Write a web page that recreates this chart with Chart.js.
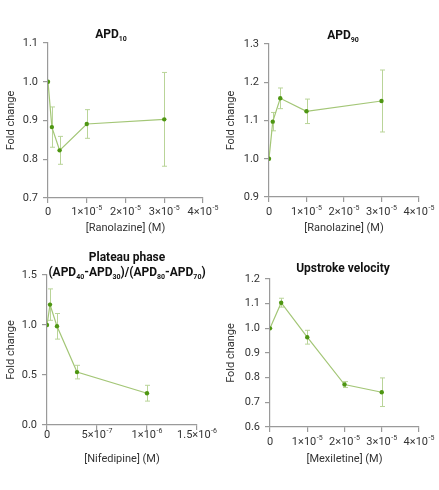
<!DOCTYPE html>
<html>
<head>
<meta charset="utf-8">
<script src="https://cdn.jsdelivr.net/npm/chart.js@4.4.1/dist/chart.umd.min.js"></script>
<style>
  body { margin: 0; background: #fff; width: 439px; height: 490px; position: relative; overflow: hidden; }
  canvas { position: absolute; }
</style>
</head>
<body>
<canvas id="apd10Chart" width="220" height="240" style="left:0;top:0"></canvas>
<canvas id="apd90Chart" width="219" height="240" style="left:220px;top:0"></canvas>
<canvas id="plateauChart" width="220" height="250" style="left:0;top:240px"></canvas>
<canvas id="upstrokeChart" width="219" height="250" style="left:220px;top:240px"></canvas>
<script>
// Concentrations (M)
const ranolazineConc = [0, 1e-6, 3e-6, 1e-5, 3e-5];
const nifedipineConc = [0, 3e-8, 1e-7, 3e-7, 1e-6];
const mexiletineConc = [0, 3e-6, 1e-5, 2e-5, 3e-5];

// Fold change values and error (+/-)
const apd10Values = [1.0, 0.883, 0.823, 0.891, 0.903];
const apd10Errors = [0, 0.052, 0.036, 0.037, 0.121];
const apd90Values = [1.0, 1.097, 1.158, 1.124, 1.151];
const apd90Errors = [0, 0.024, 0.027, 0.032, 0.081];
const plateauValues = [1.0, 1.204, 0.987, 0.529, 0.318];
const plateauErrors = [0, 0.157, 0.128, 0.068, 0.079];
const upstrokeValues = [1.0, 1.104, 0.964, 0.772, 0.741];
const upstrokeErrors = [0, 0.018, 0.028, 0.012, 0.058];

// Tick positions and labels (mantissa, exponent)
const ranolazineTicks = [0, 1e-5, 2e-5, 3e-5, 4e-5];
const ranolazineTickLabels = [['0', ''], ['1×10', '-5'], ['2×10', '-5'], ['3×10', '-5'], ['4×10', '-5']];
const nifedipineTicks = [0, 5e-7, 1e-6, 1.5e-6];
const nifedipineTickLabels = [['0', ''], ['5×10', '-7'], ['1×10', '-6'], ['1.5×10', '-6']];

const FONT = "Roboto, 'Liberation Sans', sans-serif";
const POINT_COLOR = '#4e9612';
const LINE_COLOR = '#a3c676';
const ERR_COLOR = '#b9d498';
const AXIS_COLOR = '#9a9a9a';
const TEXT_COLOR = '#333333';

// Vertical error bars with small caps, drawn under the points
const errorBarPlugin = {
  id: 'errorBars',
  beforeDatasetsDraw(chart) {
    const errs = chart.options.plugins.errorBars.errors;
    const ds = chart.data.datasets[0];
    const { ctx, scales: { x, y } } = chart;
    ctx.save();
    ctx.strokeStyle = ERR_COLOR;
    ctx.lineWidth = 1;
    ds.data.forEach((p, i) => {
      if (!errs[i]) return;
      const px = Math.round(x.getPixelForValue(p.x)) + 0.5;
      const top = y.getPixelForValue(p.y + errs[i]);
      const bot = y.getPixelForValue(p.y - errs[i]);
      ctx.beginPath();
      ctx.moveTo(px, top); ctx.lineTo(px, bot);
      ctx.moveTo(px - 2.5, top); ctx.lineTo(px + 2.5, top);
      ctx.moveTo(px - 2.5, bot); ctx.lineTo(px + 2.5, bot);
      ctx.stroke();
    });
    ctx.restore();
  }
};

// x tick labels with superscript exponents
const sciTickPlugin = {
  id: 'sciTicks',
  afterDraw(chart) {
    const o = chart.options.plugins.sciTicks;
    const { ctx, scales: { x } } = chart;
    const yc = chart.chartArea.bottom + o.offset;
    ctx.save();
    ctx.fillStyle = TEXT_COLOR;
    ctx.textBaseline = 'middle';
    o.values.forEach((v, i) => {
      const [base, exp] = o.labels[i];
      ctx.font = `11px ${FONT}`;
      const wb = ctx.measureText(base).width;
      ctx.font = `7px ${FONT}`;
      const we = exp ? ctx.measureText(exp).width + 0.5 : 0;
      let cx = x.getPixelForValue(v) - (wb + we) / 2;
      ctx.font = `11px ${FONT}`;
      ctx.fillText(base, cx, yc);
      if (exp) {
        ctx.font = `7px ${FONT}`;
        ctx.fillText(exp, cx + wb + 0.5, yc - 4);
      }
    });
    ctx.restore();
  }
};

// Bold title with subscript segments
const subTitlePlugin = {
  id: 'subTitle',
  afterDraw(chart) {
    const o = chart.options.plugins.subTitle;
    const ctx = chart.ctx;
    ctx.save();
    ctx.fillStyle = '#111';
    ctx.textBaseline = 'alphabetic';
    o.lines.forEach((segs, li) => {
      let w = 0;
      segs.forEach(s => {
        ctx.font = `bold ${s.sub ? 7 : 12}px ${FONT}`;
        w += ctx.measureText(s.t).width;
      });
      let cx = o.x - w / 2;
      const base = o.y + li * o.lineGap;
      segs.forEach(s => {
        ctx.font = `bold ${s.sub ? 7 : 12}px ${FONT}`;
        ctx.fillText(s.t, cx, base + (s.sub ? 3 : 0));
        cx += ctx.measureText(s.t).width;
      });
    });
    ctx.restore();
  }
};

function makePanel(id, cfg) {
  const canvas = document.getElementById(id);
  const W = canvas.width, H = canvas.height;
  const points = cfg.xs.map((x, i) => ({ x: x, y: cfg.ys[i] }));
  new Chart(canvas.getContext('2d'), {
    type: 'line',
    data: {
      datasets: [{
        data: points,
        borderColor: LINE_COLOR,
        borderWidth: 1.2,
        pointBackgroundColor: POINT_COLOR,
        pointBorderColor: POINT_COLOR,
        pointRadius: 2.2,
        pointBorderWidth: 0,
        tension: 0
      }]
    },
    options: {
      responsive: false,
      animation: false,
      layout: { padding: { left: 0, bottom: 0, top: cfg.area.top, right: W - cfg.area.right } },
      plugins: {
        legend: { display: false },
        tooltip: { enabled: false },
        errorBars: { errors: cfg.errs },
        sciTicks: { values: cfg.xTicks, labels: cfg.xLabels, offset: cfg.xLabelOffset },
        subTitle: cfg.title
      },
      scales: {
        x: {
          type: 'linear',
          min: cfg.xTicks[0],
          max: cfg.xTicks[cfg.xTicks.length - 1],
          afterBuildTicks: axis => { axis.ticks = cfg.xTicks.map(v => ({ value: v })); },
          afterFit: axis => { axis.height = H - cfg.area.bottom; },
          border: { color: AXIS_COLOR, width: 1.2 },
          grid: { drawOnChartArea: false, drawTicks: true, tickLength: 5, color: AXIS_COLOR, lineWidth: 1.2 },
          ticks: { font: { family: FONT, size: 11 }, maxRotation: 0, autoSkip: false, callback: () => '' },
          title: { display: true, text: cfg.xTitle, font: { family: FONT, size: 11 }, color: TEXT_COLOR, padding: { top: 0, bottom: cfg.xTitlePad } }
        },
        y: {
          min: cfg.yMin,
          max: cfg.yMax,
          afterFit: axis => { axis.width = cfg.area.left; },
          border: { color: AXIS_COLOR, width: 1.2 },
          grid: { drawOnChartArea: false, drawTicks: true, tickLength: 5, color: AXIS_COLOR, lineWidth: 1.2 },
          ticks: {
            font: { family: FONT, size: 11 }, color: TEXT_COLOR, padding: 5, stepSize: cfg.yStep,
            callback: v => Number(v).toFixed(1)
          },
          title: { display: true, text: 'Fold change', font: { family: FONT, size: 11 }, color: TEXT_COLOR, padding: { top: 5, bottom: 0 } }
        }
      }
    },
    plugins: [errorBarPlugin, sciTickPlugin, subTitlePlugin]
  });
}

makePanel('apd10Chart', {
  xs: ranolazineConc, ys: apd10Values, errs: apd10Errors,
  xTicks: ranolazineTicks, xLabels: ranolazineTickLabels, xTitle: '[Ranolazine] (M)',
  yMin: 0.7, yMax: 1.1, yStep: 0.1,
  area: { left: 48, top: 43, right: 203, bottom: 198 },
  xLabelOffset: 14.5, xTitlePad: 5,
  title: { x: 111, y: 38, lineGap: 0, lines: [[{ t: 'APD' }, { t: '10', sub: true }]] }
});

makePanel('apd90Chart', {
  xs: ranolazineConc, ys: apd90Values, errs: apd90Errors,
  xTicks: ranolazineTicks, xLabels: ranolazineTickLabels, xTitle: '[Ranolazine] (M)',
  yMin: 0.9, yMax: 1.3, yStep: 0.1,
  area: { left: 49, top: 44, right: 199, bottom: 197 },
  xLabelOffset: 15, xTitlePad: 5,
  title: { x: 123, y: 39, lineGap: 0, lines: [[{ t: 'APD' }, { t: '90', sub: true }]] }
});

makePanel('plateauChart', {
  xs: nifedipineConc, ys: plateauValues, errs: plateauErrors,
  xTicks: nifedipineTicks, xLabels: nifedipineTickLabels, xTitle: '[Nifedipine] (M)',
  yMin: 0, yMax: 1.5, yStep: 0.5,
  area: { left: 47, top: 35, right: 197, bottom: 185 },
  xLabelOffset: 10, xTitlePad: 24,
  title: {
    x: 127, y: 21, lineGap: 15,
    lines: [
      [{ t: 'Plateau phase' }],
      [{ t: '(APD' }, { t: '40', sub: true }, { t: '-APD' }, { t: '30', sub: true }, { t: ')/(APD' }, { t: '80', sub: true }, { t: '-APD' }, { t: '70', sub: true }, { t: ')' }]
    ]
  }
});

makePanel('upstrokeChart', {
  xs: mexiletineConc, ys: upstrokeValues, errs: upstrokeErrors,
  xTicks: ranolazineTicks, xLabels: ranolazineTickLabels, xTitle: '[Mexiletine] (M)',
  yMin: 0.6, yMax: 1.2, yStep: 0.1,
  area: { left: 50, top: 39, right: 199, bottom: 187 },
  xLabelOffset: 15, xTitlePad: 24,
  title: { x: 123, y: 32, lineGap: 0, lines: [[{ t: 'Upstroke velocity' }]] }
});
</script>
</body>
</html>
